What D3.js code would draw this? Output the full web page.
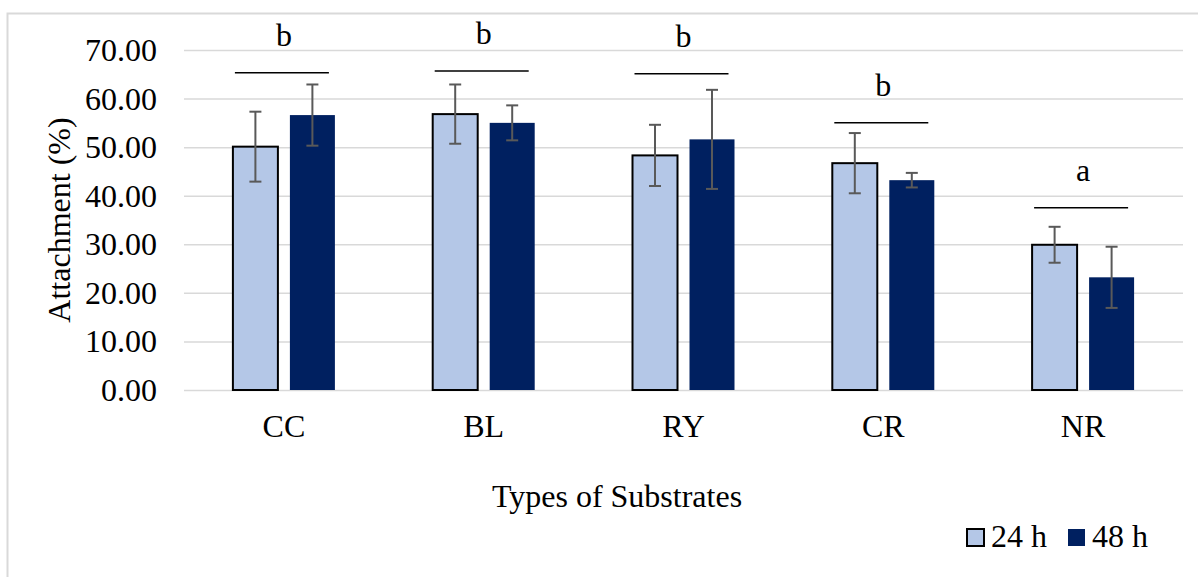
<!DOCTYPE html>
<html>
<head>
<meta charset="utf-8">
<script src="https://cdn.jsdelivr.net/npm/d3@7"></script>
<style>
  body { margin: 0; background: #fff; }
  svg { display: block; }
</style>
</head>
<body>
<script>
const categories = ["CC", "BL", "RY", "CR", "NR"];
const seriesNames = ["24 h", "48 h"];
const values24 = [50.1, 56.8, 48.3, 46.7, 29.9];
const values48 = [56.6, 55.0, 51.6, 43.2, 23.2];
const err24 = [7.2, 6.1, 6.3, 6.2, 3.7];
const err48 = [6.3, 3.6, 10.2, 1.5, 6.3];
const sigLetters = ["b", "b", "b", "b", "a"];
const sigLevel = [65.3, 65.7, 65.1, 55.0, 37.5];
const yTicks = [0, 10, 20, 30, 40, 50, 60, 70];

const colors = { "24 h": "#b4c7e7", "48 h": "#002060" };
const serif = "Liberation Serif";
const fontSize = "32px";

const width = 1198, height = 577;
const plotLeft = 184, plotRight = 1183, plotTop = 50, plotBottom = 390;

const svg = d3.select("body").append("svg")
  .attr("width", width)
  .attr("height", height);

// chart frame
svg.append("rect")
  .attr("x", 7.5).attr("y", 13.5)
  .attr("width", width + 20).attr("height", height + 20)
  .attr("fill", "none")
  .attr("stroke", "#d9d9d9")
  .attr("stroke-width", 2);

const y = d3.scaleLinear().domain([0, 70]).range([plotBottom, plotTop]);
const x0 = d3.scaleBand().domain(categories).range([plotLeft, plotRight])
  .paddingInner(0.4895).paddingOuter(0.24475);
const x1 = d3.scaleBand().domain(seriesNames).range([0, x0.bandwidth()])
  .paddingInner(0.2105);

// gridlines + y labels
const yAxis = d3.axisLeft(y).tickValues(yTicks)
  .tickSize(-(plotRight - plotLeft))
  .tickFormat(d3.format(".2f"));
const gy = svg.append("g").attr("transform", `translate(${plotLeft},0)`).call(yAxis);
gy.select(".domain").remove();
gy.selectAll(".tick line").attr("stroke", "#d9d9d9").attr("stroke-width", 1.5);
gy.selectAll(".tick text")
  .attr("x", -27).attr("dy", "0.33em")
  .style("font-size", fontSize)
  .style("font-family", serif)
  .attr("fill", "#000");

// rows for bars
const rows = categories.map((c, i) => ({
  cat: c,
  bars: [
    { s: "24 h", v: values24[i], e: err24[i] },
    { s: "48 h", v: values48[i], e: err48[i] }
  ]
}));

const groups = svg.selectAll("g.cat").data(rows).enter().append("g")
  .attr("class", "cat")
  .attr("transform", d => `translate(${x0(d.cat)},0)`);

groups.selectAll("rect").data(d => d.bars).enter().append("rect")
  .attr("x", d => x1(d.s))
  .attr("y", d => y(d.v))
  .attr("width", x1.bandwidth())
  .attr("height", d => y(0) - y(d.v))
  .attr("fill", d => colors[d.s])
  .attr("stroke", d => d.s === "24 h" ? "#000" : "none")
  .attr("stroke-width", 2);

// error bars
const eb = groups.selectAll("g.err").data(d => d.bars).enter().append("g")
  .attr("class", "err")
  .attr("stroke", "#595959")
  .attr("stroke-width", 2);
eb.append("line")
  .attr("x1", d => x1(d.s) + x1.bandwidth() / 2)
  .attr("x2", d => x1(d.s) + x1.bandwidth() / 2)
  .attr("y1", d => y(d.v + d.e))
  .attr("y2", d => y(d.v - d.e));
[1, -1].forEach(sign => {
  eb.append("line")
    .attr("x1", d => x1(d.s) + x1.bandwidth() / 2 - 6)
    .attr("x2", d => x1(d.s) + x1.bandwidth() / 2 + 6)
    .attr("y1", d => y(d.v + sign * d.e))
    .attr("y2", d => y(d.v + sign * d.e));
});

// significance lines and letters
groups.append("line")
  .attr("x1", 2)
  .attr("x2", x0.bandwidth() - 6)
  .attr("y1", (d, i) => y(sigLevel[i]))
  .attr("y2", (d, i) => y(sigLevel[i]))
  .attr("stroke", "#000")
  .attr("stroke-width", 1.5);
groups.append("text")
  .attr("x", x0.bandwidth() / 2)
  .attr("y", (d, i) => y(sigLevel[i]) - 27)
  .attr("text-anchor", "middle")
  .style("font-family", serif)
  .style("font-size", fontSize)
  .text((d, i) => sigLetters[i]);

// category labels
svg.selectAll("text.cat").data(categories).enter().append("text")
  .attr("class", "cat")
  .attr("x", d => x0(d) + x0.bandwidth() / 2)
  .attr("y", 437)
  .attr("text-anchor", "middle")
  .style("font-family", serif)
  .style("font-size", fontSize)
  .text(d => d);

// axis titles
svg.append("text")
  .attr("transform", `translate(70,220) rotate(-90)`)
  .attr("text-anchor", "middle")
  .style("font-family", serif)
  .style("font-size", fontSize)
  .text("Attachment (%)");

svg.append("text")
  .attr("x", 617).attr("y", 507)
  .attr("text-anchor", "middle")
  .style("font-family", serif)
  .style("font-size", fontSize)
  .text("Types of Substrates");

// legend
const legendX = [967, 1068];
const lg = svg.selectAll("g.legend").data(seriesNames).enter().append("g")
  .attr("class", "legend")
  .attr("transform", (d, i) => `translate(${legendX[i]},529)`);
lg.append("rect")
  .attr("width", 17).attr("height", 17)
  .attr("fill", d => colors[d])
  .attr("stroke", d => d === "24 h" ? "#000" : "none")
  .attr("stroke-width", 2);
lg.append("text")
  .attr("x", 24).attr("y", 18)
  .style("font-family", serif)
  .style("font-size", fontSize)
  .text(d => d);
</script>
</body>
</html>
